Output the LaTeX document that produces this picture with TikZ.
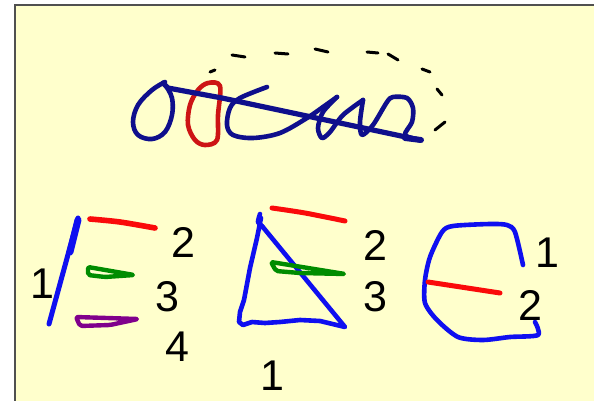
\documentclass[tikz,border=0pt]{standalone}
\usepackage{fontspec}
\setmainfont{Liberation Sans}
\definecolor{bgy}{RGB}{255,255,204}
\definecolor{frame}{RGB}{80,80,80}
\definecolor{navy}{RGB}{15,15,140}
\definecolor{dred}{RGB}{205,20,20}
\definecolor{pblue}{RGB}{15,15,240}
\definecolor{pred}{RGB}{250,10,10}
\definecolor{pgreen}{RGB}{0,140,0}
\definecolor{ppurple}{RGB}{128,0,140}
\tikzset{
  ink/.style={line width=4.6pt, line cap=round, line join=round},
  dsh/.style={line width=3pt, line cap=round, black},
  lab/.style={font=\fontsize{43}{50}\selectfont, inner sep=0pt, text=black}
}
\begin{document}
\begin{tikzpicture}[x=1pt,y=-1pt]
\useasboundingbox (0,0) rectangle (594,401);
\fill[bgy] (15,5) rectangle (594,401);
\draw[frame, line width=1.6pt] (15,401) -- (15,5) -- (594,5);

% dashed arc
\draw[dsh] (210,72) -- (215,70);
\draw[dsh] (232,55) -- (245,57);
\draw[dsh] (275,53) -- (288,54);
\draw[dsh] (315,49) -- (328,52);
\draw[dsh] (367,52) -- (378,53);
\draw[dsh] (388,54) -- (398,60);
\draw[dsh] (422,69) -- (430,72);
\draw[dsh] (437,89) -- (442,95);
\draw[dsh] (435,130) -- (445,122);

% red D
\draw[ink, dred] plot[smooth cycle, tension=0.55] coordinates {(220,86) (208,83) (198,90) (190,105) (188,125) (195,140) (205,145) (217,140) (218,115)};

% navy cursive
\draw[ink, navy] plot[smooth, tension=0.6] coordinates {(165,82) (152,90) (138,105) (133,122) (138,135) (152,139) (165,132) (172,115) (172,98) (166,86)};
\draw[ink, navy, line width=5.2pt] (163,83) -- (168,88) -- (222,98) -- (420,140);
\draw[ink, navy, line width=6pt] (405,138) -- (421,140);
\draw[ink, navy] plot[smooth, tension=0.55] coordinates {(267,87) (240,98) (230,108) (227,125) (233,135) (253,138) (280,133) (307,118) (323,107) (337,97)};
\draw[ink, navy] plot[smooth, tension=0.5] coordinates {(337,97) (323,112) (318,128) (322,138) (330,132) (343,115) (363,100)};
\draw[ink, navy] plot[smooth, tension=0.5] coordinates {(363,100) (360,122) (362,135) (373,125) (387,102) (393,97) (407,98) (413,108) (412,122) (405,135) (420,140)};

% left group
\draw[ink, pblue, line width=5pt] (78,218) -- (49,324);
\draw[ink, pblue, line width=7pt] (78,220) -- (70,252);
\draw[ink, pred, line width=5.6pt] plot[smooth] coordinates {(90,219) (120,222) (155,228)};
\draw[ink, pgreen, line width=4.4pt, rounded corners=2pt] (88,267) -- (134,275) -- (105,277) -- (88,275) -- cycle;
\draw[ink, ppurple, line width=4.4pt, rounded corners=2pt] (76,317) -- (138,319) -- (110,325) -- (80,326) -- cycle;
\node[lab] (l1) at (42,284) {1};
\node[lab] (l2) at (183,242) {2};
\node[lab] (l3) at (167,297) {3};
\node[lab] (l4) at (177,347) {4};

% middle group
\draw[ink, pblue] plot[smooth, tension=0.4] coordinates {(260,214) (258,222) (262,226)};
\draw[ink, pblue] (261,218) -- (257,238) -- (250,268) -- (244,300) -- (240,312) -- (239,322) -- (243,325) -- (252,322) -- (265,323) -- (280,322) -- (300,320) -- (320,321) -- (345,327) -- (262,226);
\draw[ink, pred, line width=5pt] plot[smooth] coordinates {(272,208) (305,213) (345,221)};
\draw[ink, pgreen, line width=4.4pt, rounded corners=2pt] (271,262) -- (345,274) -- (300,273) -- (276,271) -- cycle;
\node[lab] (m2) at (375,245) {2};
\node[lab] (m3) at (375,297) {3};
\node[lab] (m1) at (272,376) {1};

% right group
\draw[ink, pblue] plot[smooth, tension=0.45] coordinates {(523,265) (515,232) (507,225) (490,224) (453,226) (442,232) (430,257) (425,280) (425,303) (437,320) (458,337) (483,340) (510,337) (538,335) (535,322)};
\draw[ink, pred, line width=5pt] (428,282) -- (500,293);
\node[lab] (r1) at (547,253) {1};
\node[lab] (r2) at (530,305) {2};
\end{tikzpicture}
\end{document}
